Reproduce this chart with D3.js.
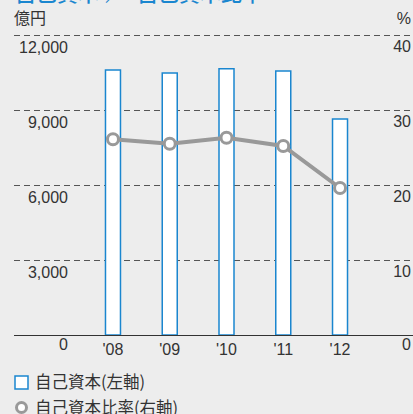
<!DOCTYPE html>
<html><head><meta charset="utf-8">
<script src="https://cdn.jsdelivr.net/npm/d3@7"></script>
<style>
html,body{margin:0;padding:0;background:#ededed;}
svg{display:block;}
</style></head>
<body>
<svg id="c" width="413" height="414"></svg>
<script>
const categories = ["'08","'09","'10","'11","'12"];
const equity = [10600, 10480, 10650, 10560, 8640];
const equityRatio = [26.1, 25.5, 26.3, 25.2, 19.6];
const leftTicks = [0, 3000, 6000, 9000, 12000];
const rightTicks = [0, 10, 20, 30, 40];
const titleParts = ["自己資本", "／", "自己資本比率"];
const leftUnit = "億円";
const rightUnit = "%";
const legendLabels = ["自己資本(左軸)", "自己資本比率(右軸)"];

(function(){
const svg = d3.select("#c");
const plotTop = 35, plotBottom = 335, plotLeft = 14, plotRight = 413;
const blue = "#1a86cf", gray = "#999999";
const numFont = "'Liberation Sans', Arial, sans-serif";
const jpFont = "'Noto Sans CJK JP', sans-serif";

const x = d3.scaleBand().domain(categories).range([84.6, 368.4]);
const yL = d3.scaleLinear().domain([0, 12000]).range([plotBottom, plotTop]);
const yR = d3.scaleLinear().domain([0, 40]).range([plotBottom, plotTop]);

const t = svg.append("text").attr("y", 1).attr("font-family", jpFont)
  .attr("font-size", 21).attr("font-weight", 500).attr("fill", blue);
t.append("tspan").attr("x", 15).text(titleParts[0]);
t.append("tspan").attr("x", 105).text(titleParts[1]);
t.append("tspan").attr("x", 137).text(titleParts[2]);

svg.append("text").attr("x", 14).attr("y", 24).attr("font-family", jpFont)
  .attr("font-size", 16).attr("fill", "#333").text(leftUnit);
svg.append("text").attr("x", 411).attr("y", 24).attr("text-anchor", "end").attr("font-family", numFont)
  .attr("font-size", 16).attr("fill", "#333").text(rightUnit);

svg.append("g").selectAll("line").data(leftTicks.filter(d => d > 0)).join("line")
  .attr("x1", plotLeft).attr("x2", plotRight)
  .attr("y1", d => Math.round(yL(d)) + 0.5).attr("y2", d => Math.round(yL(d)) + 0.5)
  .attr("stroke", "#555").attr("stroke-width", 1).attr("stroke-dasharray", "6,4");

svg.append("g").selectAll("text").data(leftTicks).join("text")
  .attr("x", 68).attr("y", d => yL(d) + (d === 0 ? 15 : 18))
  .attr("text-anchor", "end").attr("font-family", numFont).attr("font-size", 16)
  .attr("fill", "#333").text(d => d3.format(",")(d));

svg.append("g").selectAll("text").data(rightTicks).join("text")
  .attr("x", 411).attr("y", d => yR(d) + (d === 0 ? 15 : 17))
  .attr("text-anchor", "end").attr("font-family", numFont).attr("font-size", 16)
  .attr("fill", "#333").text(d => d);

const bw = 15;
svg.append("g").selectAll("rect").data(equity).join("rect")
  .attr("x", (d, i) => x(categories[i]) + x.bandwidth() / 2 - bw / 2)
  .attr("y", d => yL(d))
  .attr("width", bw).attr("height", d => yL(0) - yL(d))
  .attr("fill", "#fff").attr("stroke", blue).attr("stroke-width", 1.5);

svg.append("line").attr("x1", plotLeft).attr("x2", plotRight).attr("y1", plotBottom + 0.5).attr("y2", plotBottom + 0.5)
  .attr("stroke", "#333").attr("stroke-width", 1.2);

svg.append("g").selectAll("text").data(categories).join("text")
  .attr("x", d => x(d) + x.bandwidth() / 2).attr("y", 355)
  .attr("text-anchor", "middle").attr("font-family", numFont).attr("font-size", 16)
  .attr("fill", "#333").text(d => d);

const cx = (d, i) => x(categories[i]) + x.bandwidth() / 2;
svg.append("path").datum(equityRatio)
  .attr("d", d3.line().x(cx).y(d => yR(d)))
  .attr("fill", "none").attr("stroke", gray).attr("stroke-width", 4);
svg.append("g").selectAll("circle").data(equityRatio).join("circle")
  .attr("cx", cx).attr("cy", d => yR(d)).attr("r", 5.5)
  .attr("fill", "#fff").attr("stroke", gray).attr("stroke-width", 3);

svg.append("rect").attr("x", 15).attr("y", 376).attr("width", 13).attr("height", 13)
  .attr("fill", "#fff").attr("stroke", blue).attr("stroke-width", 1.5);
svg.append("text").attr("x", 35).attr("y", 388).attr("font-family", jpFont)
  .attr("font-size", 16.5).attr("fill", "#333").text(legendLabels[0]);
svg.append("circle").attr("cx", 21.5).attr("cy", 407.5).attr("r", 5)
  .attr("fill", "#fff").attr("stroke", gray).attr("stroke-width", 3);
svg.append("text").attr("x", 35).attr("y", 414).attr("font-family", jpFont)
  .attr("font-size", 16.5).attr("fill", "#333").text(legendLabels[1]);
})();
</script>
</body></html>
